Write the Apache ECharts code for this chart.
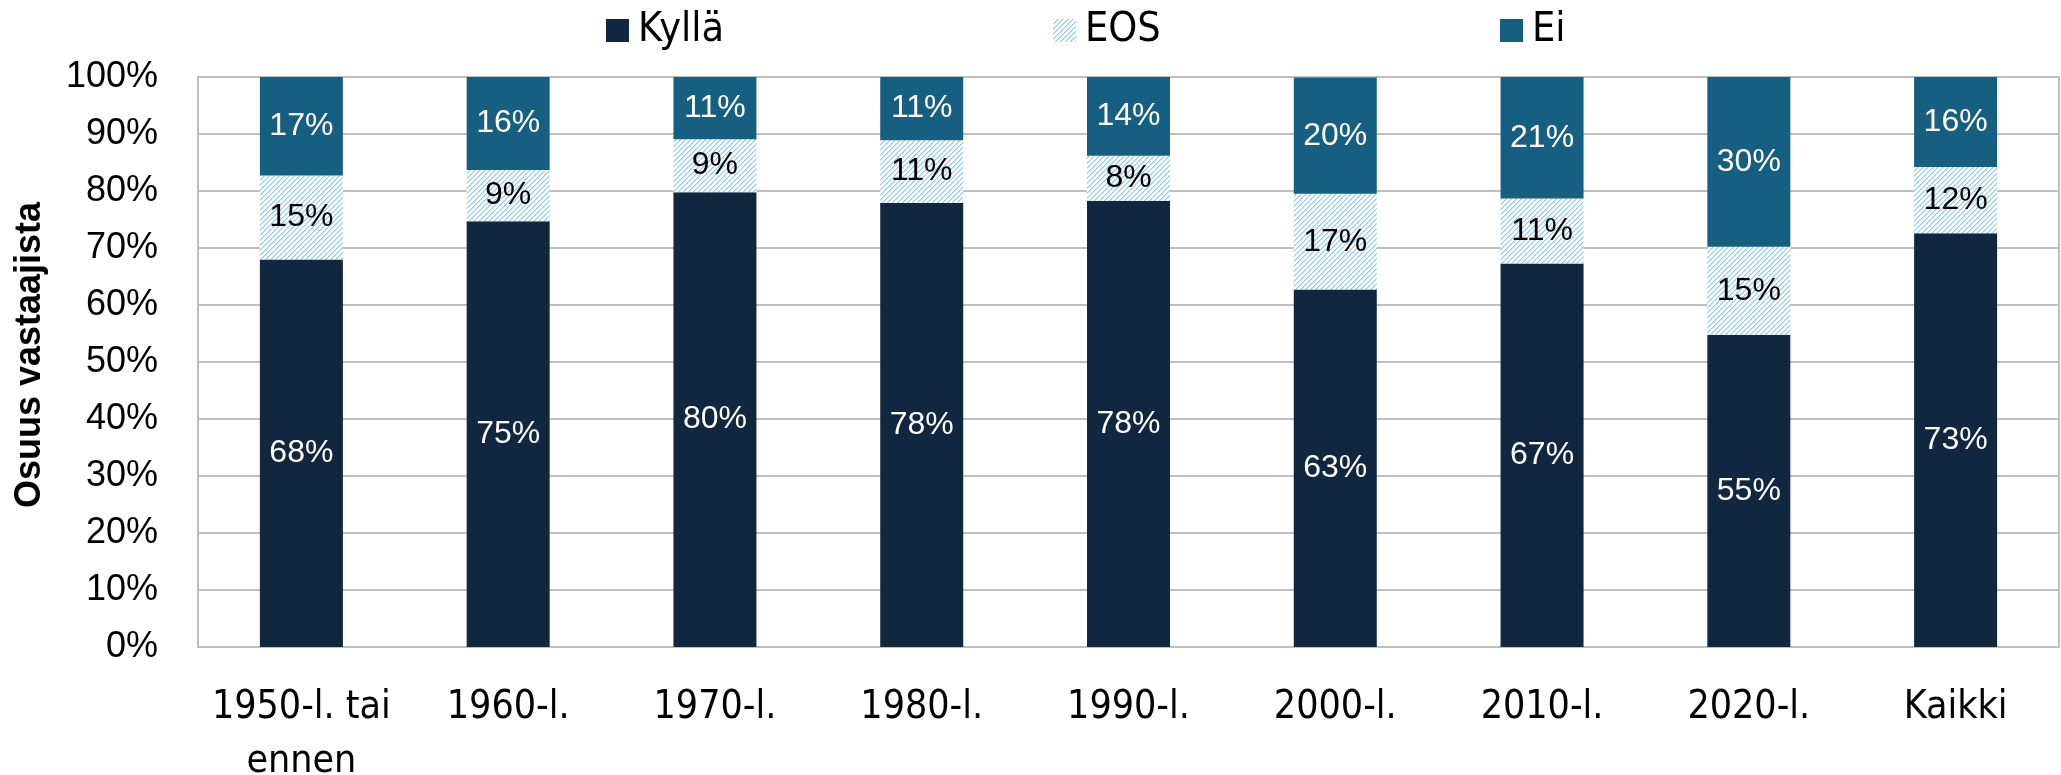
<!DOCTYPE html>
<html lang="fi">
<head>
  <meta charset="UTF-8">
  <title>Osuus vastaajista</title>
  <script src="https://cdn.jsdelivr.net/npm/echarts@6.0.0/dist/echarts.min.js"></script>
  <style>
    html, body { margin: 0; padding: 0; background: #fff; }
    #chart { width: 2061px; height: 775px; }
  </style>
</head>
<body>
  <div id="chart"></div>
<script>
  // data (percent of respondents)
  const categories = ['1950-l. tai\nennen', '1960-l.', '1970-l.', '1980-l.', '1990-l.', '2000-l.', '2010-l.', '2020-l.', 'Kaikki']
  const kylla = [68.0, 74.7, 79.8, 77.9, 78.3, 62.7, 67.3, 54.8, 72.6]
  const eos   = [14.7, 9.0, 9.3, 11.0, 7.9, 16.8, 11.4, 15.4, 11.6]
  const ei    = [17.3, 16.4, 10.9, 11.1, 13.8, 20.4, 21.3, 29.8, 15.8]
  const yTicks = [0, 10, 20, 30, 40, 50, 60, 70, 80, 90, 100]

  const condensed = "'DejaVu Sans Condensed', 'Liberation Sans Narrow', 'DejaVu Sans'"
  const sans = "'Liberation Sans', Arial, sans-serif"

  // light upward diagonal hatch for EOS
  function hatch(){
    const c = document.createElement('canvas')
    const s = 5
    c.width = s; c.height = s
    const ctx = c.getContext('2d')
    ctx.fillStyle = '#ffffff'
    ctx.fillRect(0, 0, s, s)
    for(let y=0;y<s;y++){
      const x = s-1-y
      ctx.fillStyle = '#8ccbee'
      ctx.fillRect(x, y, 1, 1)
      ctx.fillStyle = '#c4e5f7'
      ctx.fillRect((x+1)%s, y, 1, 1)
    }
    return {image: c, repeat: 'repeat'}
  }

  const pct = p => Math.round(p.value) + '%'

  const labelStyle = (color) => ({
    show: true, position: 'inside', formatter: pct,
    color: color, fontFamily: sans, fontSize: 32
  })

  const myChart = echarts.init(document.getElementById('chart'))
  const legendBase = {
    top: 10, itemWidth: 23, itemHeight: 23, itemGap: 0, padding: 0,
    icon: 'rect',
    textStyle: {fontFamily: condensed, fontSize: 41, lineHeight: 26, color: '#000', padding: [0,0,0,4]}
  }
  const option = {
    animation: false,
    legend: [
      Object.assign({left: 606, data: ['Kyllä']}, legendBase),
      Object.assign({left: 1053, data: ['EOS']}, legendBase),
      Object.assign({left: 1500, data: ['Ei']}, legendBase)
    ],
    grid: {
      left: 198, right: 2, top: 77, bottom: 128,
      outerBoundsMode: 'none', containLabel: false,
      show: true, borderColor: '#bfbfbf', borderWidth: 2
    },
    xAxis: {
      type: 'category', data: categories,
      axisLine: {show: false}, axisTick: {show: false},
      axisLabel: {
        fontFamily: condensed, fontSize: 39, lineHeight: 54,
        color: '#000', margin: 34, interval: 0
      }
    },
    yAxis: {
      type: 'value', min: 0, max: 100, interval: 10,
      name: 'Osuus vastaajista', nameLocation: 'middle', nameGap: 150,
      nameTextStyle: {fontFamily: sans, fontWeight: 'bold', fontSize: 36, color: '#000', padding: [0,0,0,14]},
      axisLabel: {
        fontFamily: sans, fontSize: 36, color: '#000', margin: 40,
        formatter: v => yTicks.includes(v) ? v + '%' : ''
      },
      splitLine: {lineStyle: {color: '#bfbfbf', width: 2}}
    },
    series: [
      {name: 'Kyllä', type: 'bar', stack: 'a', data: kylla, barWidth: 83,
        itemStyle: {color: '#10273f'}, label: labelStyle('#fff')},
      {name: 'EOS', type: 'bar', stack: 'a', data: eos, barWidth: 83,
        itemStyle: {color: hatch()}, label: labelStyle('#000')},
      {name: 'Ei', type: 'bar', stack: 'a', data: ei, barWidth: 83,
        itemStyle: {color: '#175f80'}, label: labelStyle('#fff')}
    ]
  }
  myChart.setOption(option)
</script>
</body>
</html>
